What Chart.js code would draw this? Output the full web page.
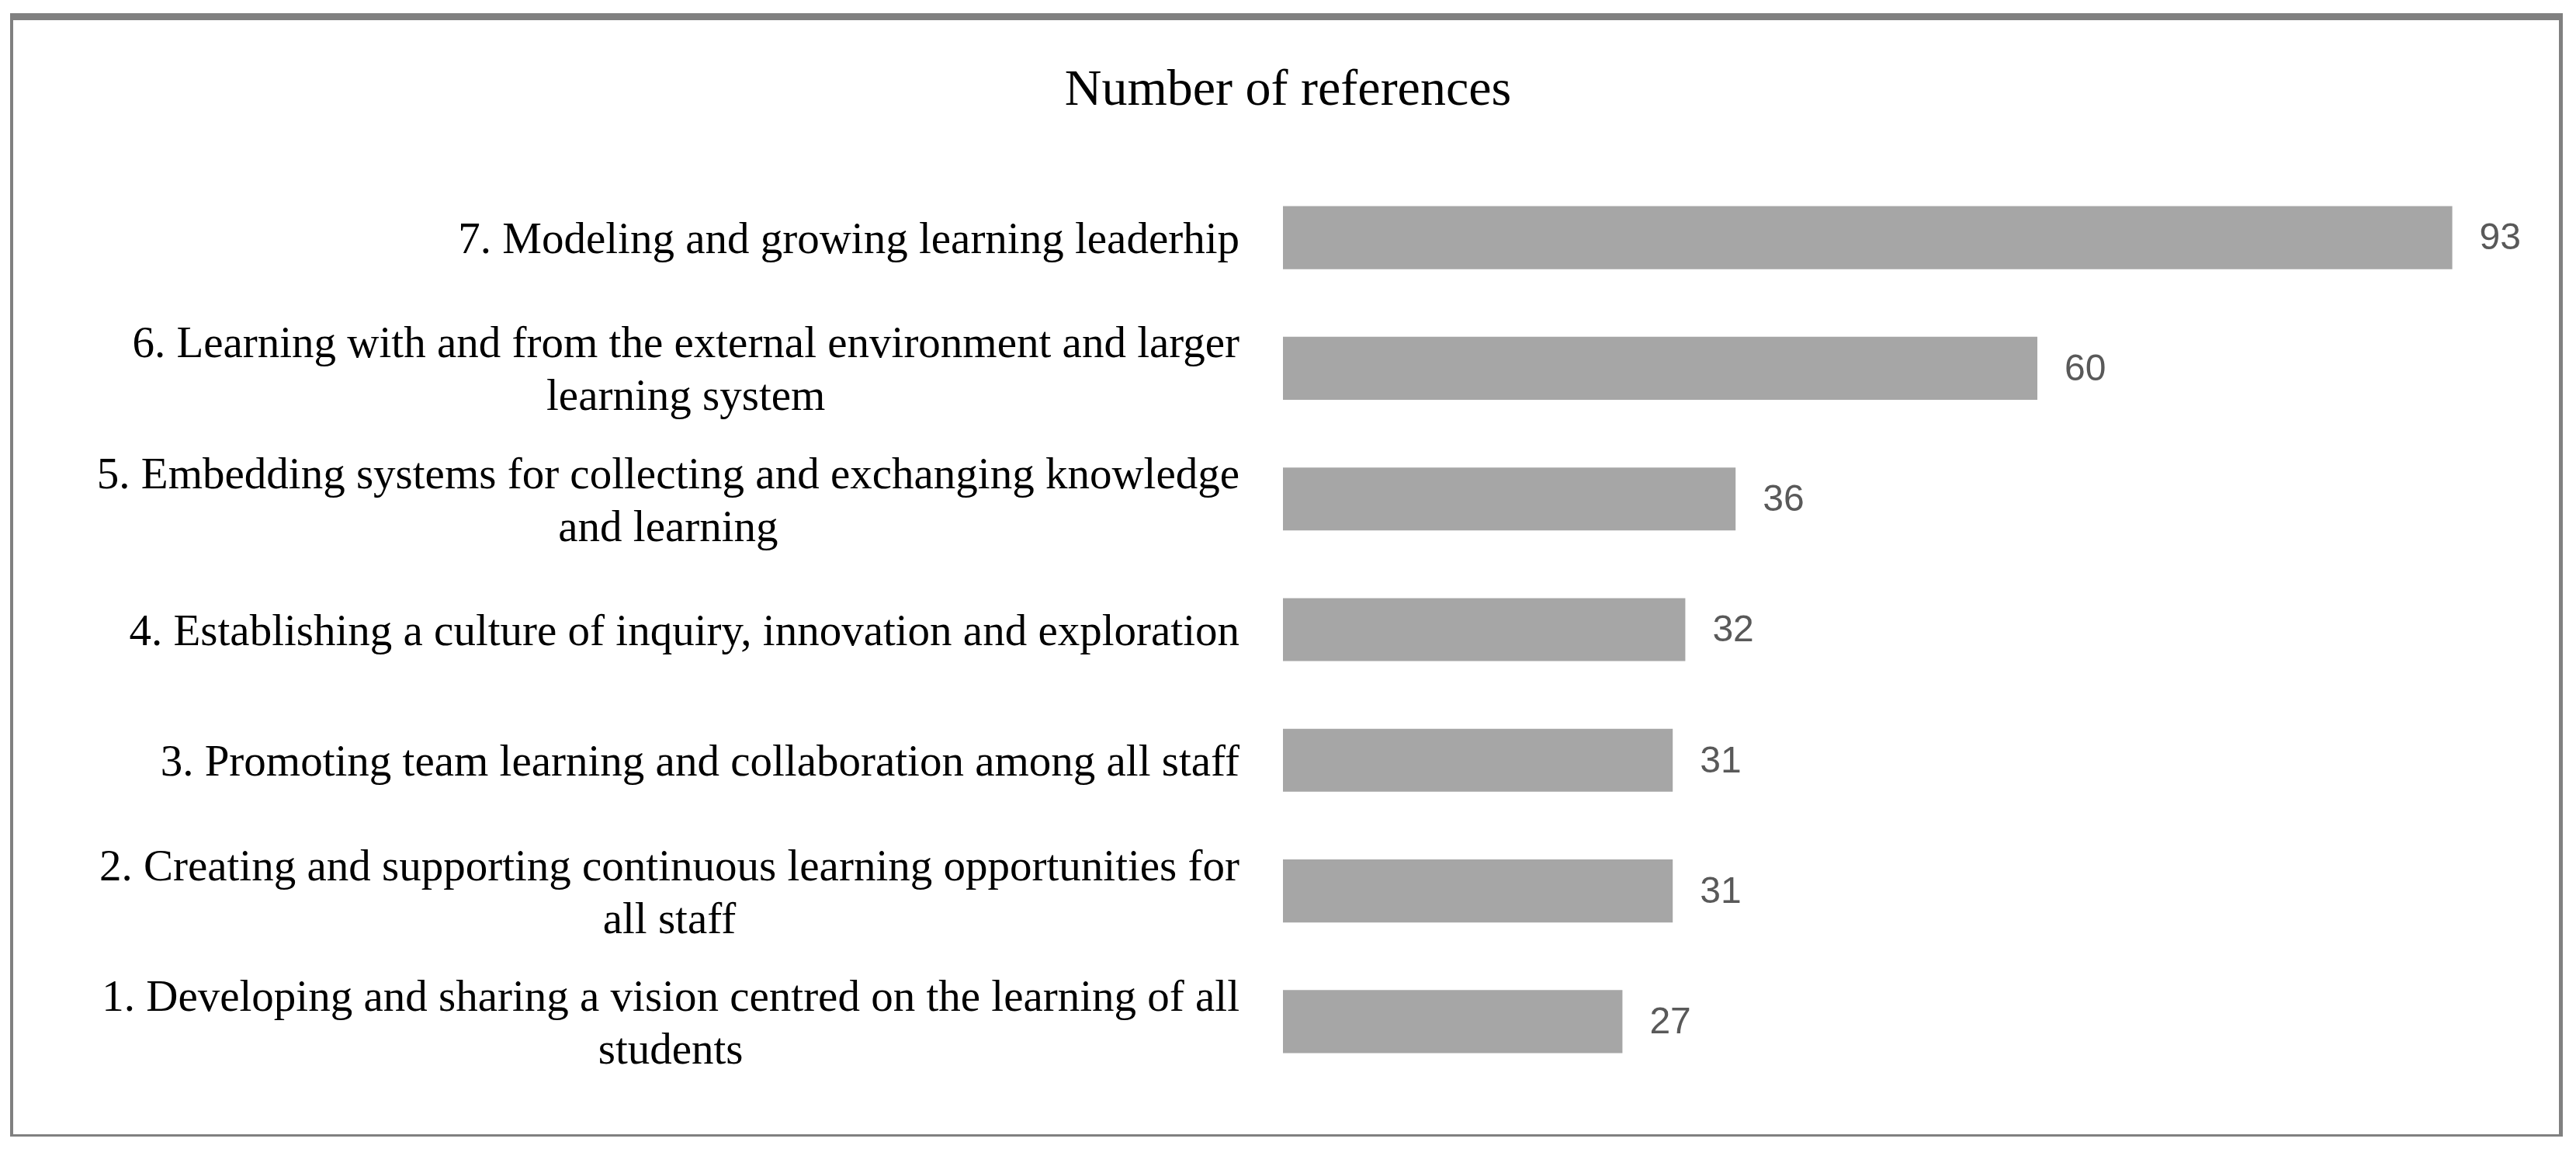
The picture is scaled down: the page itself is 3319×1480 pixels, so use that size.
<!DOCTYPE html>
<html>
<head>
<meta charset="utf-8">
<title>Number of references</title>
<script src="https://cdn.jsdelivr.net/npm/chart.js@4.4.1/dist/chart.umd.min.js"></script>
<style>
    html, body { margin: 0; padding: 0; background: #fff; }
    #wrap { position: relative; width: 3319px; height: 1480px; }
    #frame {
        position: absolute;
        left: 13px; top: 17px;
        width: 3289px; height: 1447px;
        box-sizing: border-box;
        border-style: solid;
        border-color: #808080;
        border-width: 9px 5px 3px 4px;
        pointer-events: none;
    }
</style>
</head>
<body>
<div id="wrap">
    <canvas id="chart" width="3319" height="1480"></canvas>
    <div id="frame"></div>
</div>
<script>
// Categories, top to bottom as shown (each entry = lines of the label)
const categories = [
    ["7. Modeling and growing learning leaderhip"],
    ["6. Learning with and from the external environment and larger", "learning system"],
    ["5. Embedding systems for collecting and exchanging knowledge", "and learning"],
    ["4. Establishing a culture of inquiry, innovation and exploration"],
    ["3. Promoting team learning and collaboration among all staff"],
    ["2. Creating and supporting continuous learning opportunities for", "all staff"],
    ["1. Developing and sharing a vision centred on the learning of all", "students"],
];
const references = [93, 60, 36, 32, 31, 31, 27];
const chartTitle = "Number of references";

const SERIF = '"Liberation Serif", "DejaVu Serif", serif';
const SANS = '"Liberation Sans", Arial, sans-serif';

// Draws the title, the category labels (block right-aligned, lines centred)
// and the value labels next to each bar
const textPlugin = {
    id: 'textPlugin',
    afterDatasetsDraw(chart) {
        const ctx = chart.ctx;
        const yScale = chart.scales.y;
        const left = chart.chartArea.left;
        ctx.save();

        // title
        ctx.font = '66px ' + SERIF;
        ctx.fillStyle = '#000000';
        ctx.textAlign = 'center';
        ctx.textBaseline = 'middle';
        ctx.fillText(chartTitle, chart.width / 2, 118);

        // category labels
        ctx.font = '57px ' + SERIF;
        const lineH = 68;
        categories.forEach((lines, i) => {
            const yc = yScale.getPixelForValue(i) + 5;
            const w = Math.max(...lines.map(l => ctx.measureText(l).width));
            const xc = left - 56 - w / 2;
            lines.forEach((line, j) => {
                ctx.fillText(line, xc, yc + (j - (lines.length - 1) / 2) * lineH);
            });
        });

        // value labels
        ctx.font = '48px ' + SANS;
        ctx.fillStyle = '#595959';
        ctx.textAlign = 'left';
        const meta = chart.getDatasetMeta(0);
        meta.data.forEach((bar, i) => {
            ctx.fillText(String(references[i]), bar.x + 35, bar.y + 2);
        });

        ctx.restore();
    }
};

const chart = new Chart(document.getElementById('chart'), {
    type: 'bar',
    data: {
        labels: categories,
        datasets: [{
            label: chartTitle,
            data: references,
            backgroundColor: '#a6a6a6',
            borderWidth: 0,
            categoryPercentage: 1,
            barPercentage: 0.482,
        }]
    },
    options: {
        indexAxis: 'y',
        responsive: false,
        devicePixelRatio: 1,
        animation: false,
        layout: {
            padding: { top: 222, right: 46, bottom: 80, left: 1653 }
        },
        plugins: {
            legend: { display: false },
            title: { display: false },
            tooltip: { enabled: false }
        },
        scales: {
            x: { display: false, min: 0, max: 100 },
            y: { display: false }
        }
    },
    plugins: [textPlugin]
});
</script>
</body>
</html>
